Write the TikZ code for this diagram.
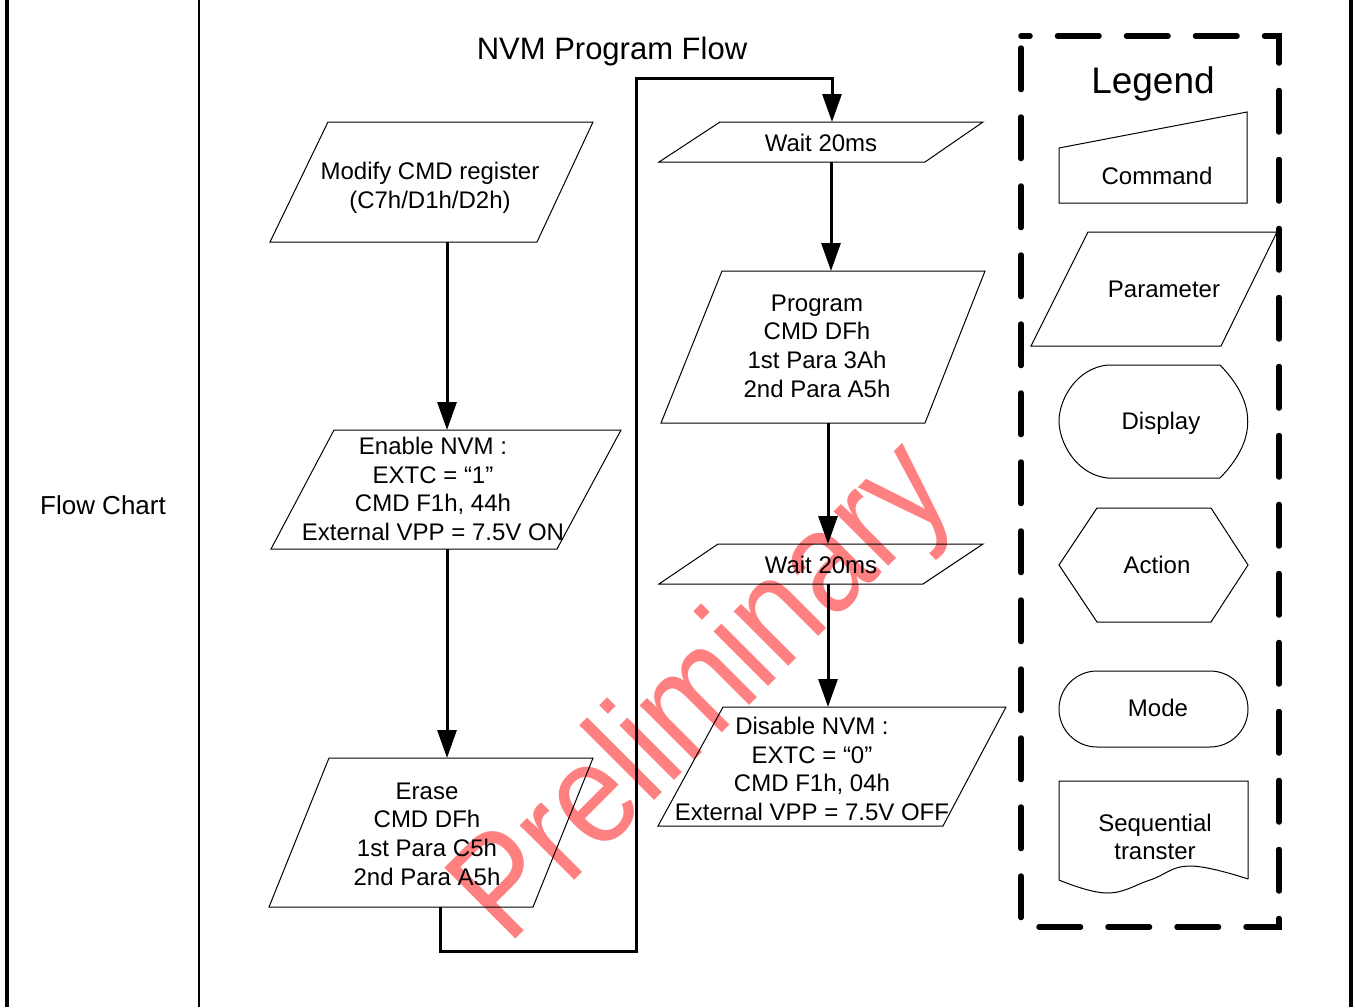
\documentclass[tikz,border=0pt]{standalone}
\usepackage{fontspec}
\usepackage{graphicx}
\setmainfont{Liberation Sans}
\usetikzlibrary{arrows.meta}
\begin{document}
\begin{tikzpicture}[x=1pt,y=-1pt,
  txt/.style={font=\fontsize{24}{28.7}\selectfont, align=center, inner sep=0pt},
  shp/.style={draw=black, line width=1pt, line join=miter},
  flow/.style={line width=3pt, -{Triangle[length=28pt,width=19pt]}},
  frameline/.style={line width=4pt},
  legendbox/.style={line width=5.5pt, dash pattern=on 41.5pt off 27.5pt, dash phase=32.5pt, line cap=round},
]
\useasboundingbox (0,0) rectangle (1355,1007);
% watermark (behind everything)
\node[rotate=45, anchor=base, text=red!50, font=\fontsize{146}{146}\selectfont, inner sep=0pt] (wm) at (733,722) {\scalebox{0.87}[1]{Preliminary}};

% table frame
\draw[frameline] (7,0) -- (7,1007);
\draw[line width=2.5pt] (199,0) -- (199,1007);
\draw[frameline] (1351,0) -- (1351,1007);
\node[txt, font=\fontsize{26}{26}\selectfont] (fc) at (103,505) {Flow Chart};

% title
\node[txt, font=\fontsize{31}{31}\selectfont] (title) at (612,51) {NVM Program Flow};

% flow shapes
\draw[shp] (328,122) -- (593,122) -- (537,242) -- (270,242) -- cycle;
\node[txt] (mod) at (430,188) {Modify CMD register\\(C7h/D1h/D2h)};
\draw[shp] (334,430) -- (621,430) -- (557,549) -- (271,549) -- cycle;
\node[txt] (en) at (433,489) {Enable NVM :\\EXTC = “1”\\CMD F1h, 44h\\External VPP = 7.5V ON};
\draw[shp] (329,758) -- (593,758) -- (533,907) -- (269,907) -- cycle;
\node[txt] (er) at (427,834) {Erase\\CMD DFh\\1st Para C5h\\2nd Para A5h};
\draw[shp] (720,122) -- (983,122) -- (925,162) -- (659,162) -- cycle;
\node[txt] (w1) at (821,143) {Wait 20ms};
\draw[shp] (722,271) -- (985,271) -- (925,423) -- (661,423) -- cycle;
\node[txt] (prog) at (817,346) {Program\\CMD DFh\\1st Para 3Ah\\2nd Para A5h};
\draw[shp] (718,544) -- (983,544) -- (923,584) -- (659,584) -- cycle;
\node[txt] (w2) at (821,565) {Wait 20ms};
\draw[shp] (723,707) -- (1006,707) -- (943,826) -- (658,826) -- cycle;
\node[txt] (dis) at (812,769) {Disable NVM :\\EXTC = “0”\\CMD F1h, 04h\\External VPP = 7.5V OFF};

% connection points
\coordinate (modB) at (447,242);
\coordinate (enT) at (447,430);
\coordinate (enB) at (447,549);
\coordinate (erT) at (447,758);
\coordinate (erB) at (440,907);
\coordinate (loopA) at (440,951);
\coordinate (loopB) at (636,951);
\coordinate (loopC) at (636,78);
\coordinate (loopD) at (832,78);
\coordinate (w1T) at (832,122);
\coordinate (w1B) at (831,162);
\coordinate (progT) at (831,271);
\coordinate (progB) at (828,423);
\coordinate (w2T) at (828,544);
\coordinate (w2B) at (828,584);
\coordinate (disT) at (828,707);

\draw[flow] (modB) -- (enT);
\draw[flow] (enB) -- (erT);
\draw[flow] (erB) -- (loopA) -- (loopB) -- (loopC) -- (loopD) -- (w1T);
\draw[flow] (w1B) -- (progT);
\draw[flow] (progB) -- (w2T);
\draw[flow] (w2B) -- (disT);

% legend
\draw[legendbox] (1021,36) -- (1279,36) -- (1279,927) -- (1021,927) -- cycle;
\node[txt, font=\fontsize{37}{37}\selectfont] (leg) at (1153,84) {Legend};
\draw[shp] (1059,148) -- (1247,112) -- (1247,203) -- (1059,203) -- cycle;
\node[txt] (lcmd) at (1157,176) {Command};
\draw[shp] (1088,232) -- (1277,232) -- (1221,346) -- (1031,346) -- cycle;
\node[txt] (lpar) at (1164,289) {Parameter};
\draw[shp] (1220,365) -- (1108,365) .. controls (1076,368) and (1059,400) .. (1059,421)
  .. controls (1059,442) and (1076,475) .. (1108,478) -- (1220,478)
  .. controls (1257,440) and (1257,403) .. (1220,365) -- cycle;
\node[txt] (ldis) at (1161,423) {Display};
\draw[shp] (1059,565) -- (1097,508) -- (1211,508) -- (1248,565) -- (1211,622) -- (1097,622) -- cycle;
\node[txt] (lact) at (1157,565) {Action};
\draw[shp, rounded corners=38pt] (1059,671) rectangle (1248,747);
\node[txt] (lmode) at (1158,708) {Mode};
\draw[shp] (1248,879) -- (1248,781) -- (1059,781) -- (1059,880)
  plot[smooth, tension=0.7] coordinates {(1059,880) (1107,893) (1150,880) (1190,866) (1248,879)};
\node[txt] (lseq) at (1155,837) {Sequential\\transter};
\end{tikzpicture}
\end{document}
